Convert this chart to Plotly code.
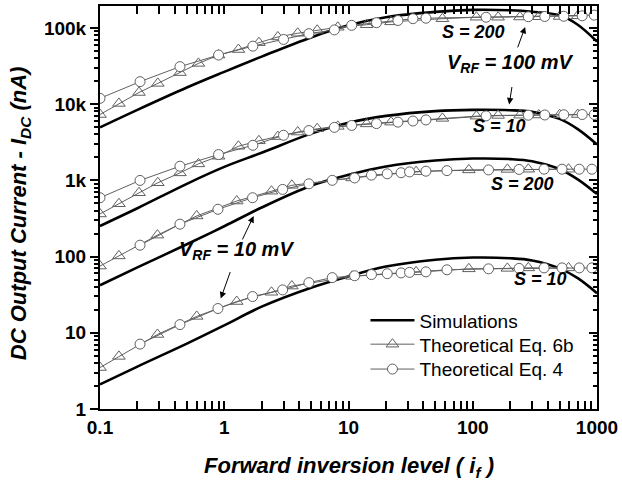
import plotly.graph_objects as go

# ---------------- data ----------------
x_sim = [0.1, 0.2, 0.5, 1, 2, 5, 10, 20, 50, 100, 200, 300, 500, 700, 1000]
sim_100_s200 = [4950, 8400, 16500, 26500, 42000, 75000, 108000, 138000, 162000, 172000, 170000, 163000, 146000, 110000, 66000]
sim_100_s10 = [252, 430, 900, 1500, 2300, 4100, 5700, 7000, 8100, 8400, 8300, 7900, 6400, 4700, 2960]
sim_10_s200 = [42, 72, 145, 250, 440, 850, 1180, 1520, 1820, 1930, 1900, 1780, 1400, 1030, 660]
sim_10_s10 = [2.1, 3.6, 7.2, 12.5, 22, 39, 55, 74, 91, 97, 95, 89, 70, 52, 33]

# 100 mV groups: marker abscissas
x_tri_100 = [0.1, 0.142, 0.206, 0.292, 0.44, 0.62, 0.9, 1.3, 1.9, 2.7, 3.9, 5.6, 8.2, 14, 22,
             57, 107, 160, 240, 340, 500, 700]
x_cir_100 = [0.1, 0.21, 0.44, 0.9, 1.7, 3.0, 4.8, 7.7, 10.6, 16.8, 25, 33, 42, 128, 280, 380,
             540, 760, 950]
eq6b_100_s200 = [7300, 10200, 14200, 18700, 25900, 34200, 44000, 52000, 64000, 76000, 85000,
                 93000, 102000, 110000, 120000, 132000, 138000, 138000, 139000, 140000, 141000, 144000]
eq4_100_s200 = [11900, 19700, 31000, 44000, 57600, 70500, 84000, 94000, 108000, 117000, 125000,
                132000, 134000, 138000, 140000, 141000, 142000, 144000, 147000]
eq6b_100_s10 = [362, 493, 687, 929, 1253, 1644, 2070, 2800, 3300, 3750, 4300, 4750, 5100, 5500,
                5800, 6500, 6950, 7100, 7150, 7200, 7250, 7300]
eq4_100_s10 = [591, 997, 1531, 2178, 2880, 3900, 4500, 4950, 5250, 5550, 5800, 6000, 6200, 7000,
               7150, 7200, 7250, 7300, 7300]

# 10 mV groups: marker abscissas
x_tri_10 = [0.1, 0.142, 0.29, 0.6, 1.26, 2.4, 3.5, 10.7, 35, 93, 190, 280, 590]
x_cir_10 = [0.21, 0.44, 0.89, 1.69, 2.95, 4.8, 7.4, 11.2, 15.3, 20.5, 26.5, 31, 42, 62, 134,
            236, 375, 523, 720, 910]
eq6b_10_s200 = [75, 102, 191, 341, 535, 720, 860, 1075, 1300, 1370, 1390, 1400, 1400]
eq4_10_s200 = [141, 266, 417, 591, 760, 900, 1000, 1075, 1170, 1217, 1258, 1290, 1318, 1340,
               1370, 1390, 1400, 1400, 1400, 1400]
eq6b_10_s10 = [3.5, 4.9, 9.5, 16.4, 25.7, 34, 41, 55, 63, 69, 70, 71, 71]
eq4_10_s10 = [7.1, 12.8, 20.8, 29.9, 36.5, 45.5, 52.9, 56, 58, 59.6, 61, 62, 63, 67, 69, 70,
              71, 71, 71, 71]

y_tickvals = [1, 10, 100, 1000, 10000, 100000]
y_ticktext = ["1", "10", "100", "1k", "10k", "100k"]
x_tickvals = [0.1, 1, 10, 100, 1000]
x_ticktext = ["0.1", "1", "10", "100", "1000"]

# minor tick positions (2..9 within each decade)
x_minor = [m * 10.0 ** e for e in range(-1, 3) for m in range(2, 10)]
y_minor = [m * 10.0 ** e for e in range(0, 6) for m in range(2, 10)]

# ---------------- figure ----------------
W, H = 622, 487
L, R, T, B = 100, 24, 4, 78
FONT = "Arial, Liberation Sans, sans-serif"
GREY = "#606060"

def px(xp):
    return (xp - L) / (W - L - R)

def py(yp):
    return (H - B - yp) / (H - T - B)

fig = go.Figure()

sims = [sim_100_s200, sim_100_s10, sim_10_s200, sim_10_s10]
for i, s in enumerate(sims):
    fig.add_trace(go.Scatter(x=x_sim, y=s, mode="lines", name="Simulations",
                             line=dict(color="black", width=2.6, shape="spline", smoothing=1.0),
                             showlegend=(i == 0), legend="legend"))

tri_sets = [(x_tri_100, eq6b_100_s200), (x_tri_100, eq6b_100_s10),
            (x_tri_10, eq6b_10_s200), (x_tri_10, eq6b_10_s10)]
cir_sets = [(x_cir_100, eq4_100_s200), (x_cir_100, eq4_100_s10),
            (x_cir_10, eq4_10_s200), (x_cir_10, eq4_10_s10)]
for i, (xx, yy) in enumerate(tri_sets):
    fig.add_trace(go.Scatter(x=xx, y=yy, mode="lines+markers", name="Theoretical Eq. 6b",
                             line=dict(color=GREY, width=1),
                             marker=dict(symbol="triangle-up-open", size=11, color=GREY,
                                         line=dict(width=1, color=GREY)),
                             showlegend=(i == 0), legend="legend2"))
for i, (xx, yy) in enumerate(cir_sets):
    fig.add_trace(go.Scatter(x=xx, y=yy, mode="lines+markers", name="Theoretical Eq. 4",
                             line=dict(color=GREY, width=1),
                             marker=dict(symbol="circle", size=10, color="white",
                                         line=dict(width=1, color=GREY)),
                             showlegend=(i == 0), legend="legend3"))

# invisible trace to carry the right-hand axis
fig.add_trace(go.Scatter(x=[1], y=[1], yaxis="y2", mode="markers",
                         marker=dict(opacity=0), showlegend=False, hoverinfo="skip"))

yr = [0, 5.287]
minor_x = dict(ticks="inside", ticklen=4, tickwidth=1.5, tickcolor="black",
               tickvals=x_minor, showgrid=False)

def leg(yp):
    return dict(x=px(366), y=py(yp), xanchor="left", yanchor="middle",
                bgcolor="rgba(0,0,0,0)", borderwidth=0, tracegroupgap=0,
                font=dict(family=FONT, size=19, color="black"), itemwidth=44)

fig.update_layout(
    width=W, height=H,
    margin=dict(l=L, r=R, t=T, b=B, pad=0),
    paper_bgcolor="white", plot_bgcolor="white",
    font=dict(family=FONT, color="black"),
    xaxis=dict(type="log", range=[-1, 3], showgrid=False, zeroline=False,
               showline=True, linecolor="black", linewidth=2, mirror="allticks",
               ticks="inside", ticklen=8, tickwidth=2, tickcolor="black",
               tickvals=x_tickvals, ticktext=x_ticktext,
               tickfont=dict(family=FONT, size=19, color="black", weight="bold"),
               minor=minor_x),
    yaxis=dict(type="log", range=yr, showgrid=False, zeroline=False,
               showline=True, linecolor="black", linewidth=2, mirror=False,
               ticks="outside", ticklen=8, tickwidth=2, tickcolor="black",
               tickvals=y_tickvals, ticktext=y_ticktext,
               tickfont=dict(family=FONT, size=19, color="black", weight="bold"),
               minor=dict(ticks="outside", ticklen=4, tickwidth=1.5, tickcolor="black",
                          tickvals=y_minor, showgrid=False)),
    yaxis2=dict(type="log", range=yr, overlaying="y", side="right", showgrid=False,
                zeroline=False, showline=True, linecolor="black", linewidth=2,
                ticks="inside", ticklen=8, tickwidth=2, tickcolor="black",
                tickvals=y_tickvals, showticklabels=False,
                minor=dict(ticks="inside", ticklen=4, tickwidth=1.5, tickcolor="black",
                           tickvals=y_minor, showgrid=False)),
    legend=leg(320), legend2=leg(344), legend3=leg(369),
    showlegend=True,
)

BI = dict(family=FONT, size=22, color="black")
ann = []

def label(text, xp, yp, size=18):
    ann.append(dict(text="<b><i>" + text + "</i></b>", x=px(xp), y=py(yp), xref="paper",
                    yref="paper", showarrow=False, xanchor="center", yanchor="middle",
                    font=dict(family=FONT, size=size, color="black")))

def arrow(tail, tip):
    ann.append(dict(text="", x=px(tip[0]), y=py(tip[1]), xref="paper", yref="paper",
                    ax=tail[0] - tip[0], ay=tail[1] - tip[1], showarrow=True,
                    arrowhead=2, arrowsize=1.3, arrowwidth=1, arrowcolor="black", standoff=0))

label("S = 200", 474, 30)
label("S = 10", 500, 125)
label("S = 200", 523, 183)
label("S = 10", 541, 278)
label("V<sub>RF</sub> = 100 mV", 511, 62, 20)
label("V<sub>RF</sub> = 10 mV", 237, 250, 20)
arrow((518, 47), (526, 25))
arrow((513, 84), (510, 103))
arrow((242, 240), (254, 215))
arrow((231, 270), (221, 298))

# axis titles
ann.append(dict(text="<b><i>Forward inversion level ( i<sub>f</sub> )</i></b>",
                x=px(349), y=py(467), xref="paper", yref="paper", showarrow=False,
                xanchor="center", yanchor="middle", font=BI))
ann.append(dict(text="<b><i>DC Output Current - I<sub>DC</sub> (nA)</i></b>",
                x=px(20), y=py(212), xref="paper", yref="paper", showarrow=False,
                xanchor="center", yanchor="middle", textangle=-90, font=BI))
fig.update_layout(annotations=ann)

fig.write_html("out.html")
